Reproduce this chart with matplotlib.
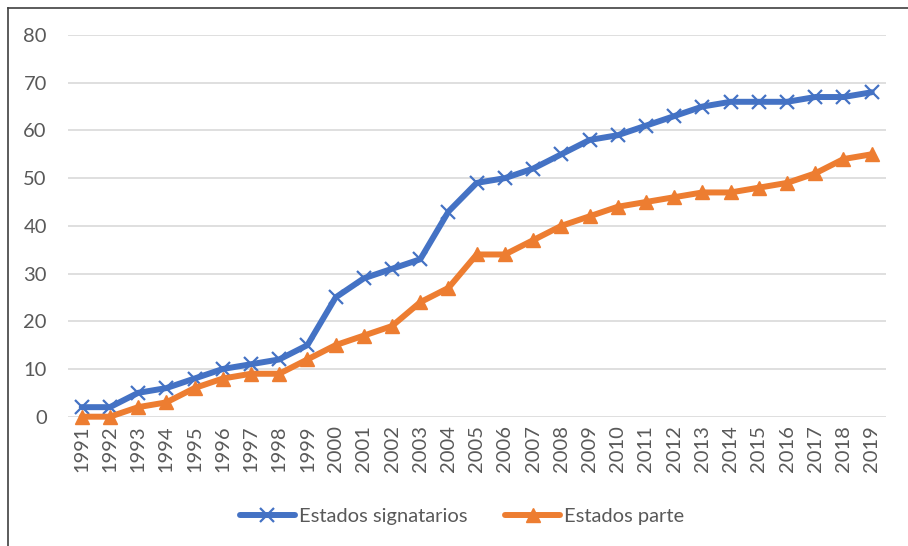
import matplotlib
matplotlib.use("Agg")
import matplotlib.pyplot as plt
from matplotlib.lines import Line2D

years = [str(y) for y in range(1991, 2020)]
signatarios = [2, 2, 5, 6, 8, 10, 11, 12, 15, 25, 29, 31, 33, 43, 49, 50, 52, 55, 58, 59,
               61, 63, 65, 66, 66, 66, 67, 67, 68]
parte = [0, 0, 2, 3, 6, 8, 9, 9, 12, 15, 17, 19, 24, 27, 34, 34, 37, 40, 42, 44,
         45, 46, 47, 47, 48, 49, 51, 54, 55]
yticks = [0, 10, 20, 30, 40, 50, 60, 70, 80]

plt.rcParams['font.family'] = ['Lato', 'DejaVu Sans']
W, H = 908, 546
fig = plt.figure(figsize=(W / 100, H / 100), dpi=100)
ax = fig.add_axes([67.6 / W, 1 - 416.7 / H, (885.8 - 67.6) / W, (416.7 - 35) / H])

x = list(range(len(years)))
blue = '#4472C4'
orange = '#ED7D31'
ax.plot(x, signatarios, color=blue, lw=4.3, marker='x', markersize=9.5, markeredgewidth=1.6,
        label='Estados signatarios', solid_capstyle='round', zorder=3, clip_on=False)
ax.plot(x, parte, color=orange, lw=4.3, marker='^', markersize=10.5,
        label='Estados parte', solid_capstyle='round', zorder=3, clip_on=False)

ax.set_xlim(-0.5, len(years) - 0.5)
ax.set_ylim(0, 80)
ax.set_yticks(yticks)
ax.set_xticks(x)
ax.set_xticklabels(years, rotation=90)
ax.grid(axis='y', color='#D9D9D9', lw=1.2)
ax.set_axisbelow(True)
for s in ax.spines.values():
    s.set_visible(False)
ax.tick_params(length=0, colors='#595959', labelsize=14.5)
ax.tick_params(axis='y', pad=15)
ax.tick_params(axis='x', pad=6)

fig.legend(loc='center', bbox_to_anchor=(462 / W, 1 - 516 / H), ncol=2, frameon=False,
           fontsize=14.5, labelcolor='#595959', handlelength=2.7, columnspacing=1.9,
           handletextpad=0.2)

# outer frame lines (left and top)
fig.add_artist(Line2D([7.5 / W, 7.5 / W], [0, 1 - 7.5 / H], color='#404040', lw=1.2,
                      transform=fig.transFigure))
fig.add_artist(Line2D([7.5 / W, 1], [1 - 7.5 / H, 1 - 7.5 / H], color='#404040', lw=1.2,
                      transform=fig.transFigure))

fig.savefig('out.png', dpi=100)
